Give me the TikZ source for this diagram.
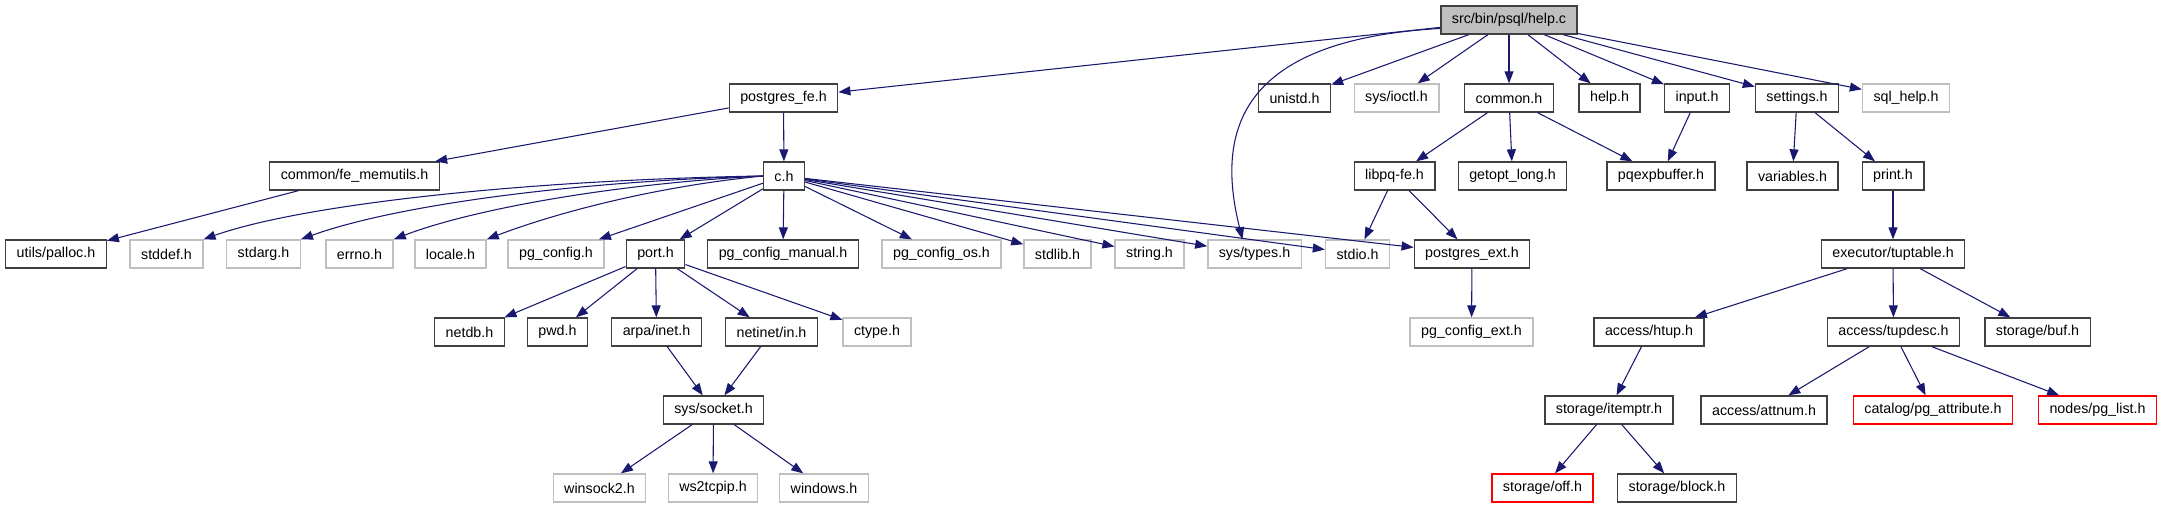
\documentclass[tikz,border=0pt]{standalone}
\usepackage{fontspec}
\setmainfont{Liberation Sans}
\usetikzlibrary{arrows.meta}
\definecolor{edgeblue}{HTML}{191970}
\definecolor{extgray}{HTML}{BFBFBF}
\definecolor{boxline}{HTML}{404040}

\begin{document}
\begin{tikzpicture}[x=0.75pt, y=-0.75pt, font=\fontsize{10.7}{12}\selectfont,
            file/.style={draw=boxline, line width=1pt, fill=white, inner xsep=8.25pt, inner ysep=0pt, minimum height=21pt},
            ext/.style={file, draw=extgray},
            trunc/.style={file, draw=red},
            root/.style={file, fill=extgray},
            inc/.style={draw=edgeblue, line width=0.8pt, -{Triangle[length=9pt,width=6.75pt]}}]
            \useasboundingbox (0,0) rectangle (2161,504);

            \node[root] (helpc) at (1509,20) {src/bin/psql/help.c};

            \node[file] (pgfe) at (783.5,98) {postgres\_fe.h};
            \node[file] (unistd) at (1294.5,98) {unistd.h};
            \node[ext] (ioctl) at (1396.5,98) {sys/ioctl.h};
            \node[file] (common) at (1509,98) {common.h};
            \node[file] (helph) at (1609.5,98) {help.h};
            \node[file] (input) at (1697,98) {input.h};
            \node[file] (settings) at (1797,98) {settings.h};
            \node[ext] (sqlhelp) at (1906,98) {sql\_help.h};

            \node[file] (memutils) at (354.5,176) {common/fe\_memutils.h};
            \node[file] (ch) at (784,176) {c.h};
            \node[file] (libpq) at (1394.5,176) {libpq-fe.h};
            \node[file] (getopt) at (1512.5,176) {getopt\_long.h};
            \node[file] (pqexp) at (1661,176) {pqexpbuffer.h};
            \node[file] (variables) at (1792.5,176) {variables.h};
            \node[file] (print) at (1893,176) {print.h};

            \node[file] (palloc) at (56,254) {utils/palloc.h};
            \node[ext] (stddef) at (166.5,254) {stddef.h};
            \node[ext] (stdarg) at (263.5,254) {stdarg.h};
            \node[ext] (errno) at (359.5,254) {errno.h};
            \node[ext] (locale) at (450.5,254) {locale.h};
            \node[ext] (pgconfig) at (556,254) {pg\_config.h};
            \node[file] (port) at (655.5,254) {port.h};
            \node[file] (pgmanual) at (783,254) {pg\_config\_manual.h};
            \node[ext] (pgos) at (941.5,254) {pg\_config\_os.h};
            \node[ext] (stdlib) at (1057.5,254) {stdlib.h};
            \node[ext] (string) at (1149.5,254) {string.h};
            \node[ext] (systypes) at (1254.5,254) {sys/types.h};
            \node[ext] (stdio) at (1357.5,254) {stdio.h};
            \node[file] (pgext) at (1472,254) {postgres\_ext.h};
            \node[file] (tuptable) at (1893,254) {executor/tuptable.h};

            \node[file] (netdb) at (469.5,332) {netdb.h};
            \node[file] (pwd) at (557.5,332) {pwd.h};
            \node[file] (arpainet) at (656.5,332) {arpa/inet.h};
            \node[file] (netinet) at (771.5,332) {netinet/in.h};
            \node[ext] (ctype) at (877,332) {ctype.h};
            \node[ext] (pgconfigext) at (1471.5,332) {pg\_config\_ext.h};
            \node[file] (htup) at (1649,332) {access/htup.h};
            \node[file] (tupdesc) at (1893.5,332) {access/tupdesc.h};
            \node[file] (buf) at (2037.5,332) {storage/buf.h};

            \node[file] (socket) at (713.5,410) {sys/socket.h};
            \node[file] (itemptr) at (1609,410) {storage/itemptr.h};
            \node[file] (attnum) at (1764,410) {access/attnum.h};
            \node[trunc] (pgattr) at (1933,410) {catalog/pg\_attribute.h};
            \node[trunc] (pglist) at (2097.5,410) {nodes/pg\_list.h};

            \node[ext] (winsock) at (599.5,488) {winsock2.h};
            \node[ext] (ws2tcpip) at (713,488) {ws2tcpip.h};
            \node[ext] (windows) at (824,488) {windows.h};
            \node[trunc] (off) at (1542.5,488) {storage/off.h};
            \node[file] (block) at (1677,488) {storage/block.h};

            \draw[inc] (helpc) -- (pgfe);
            \draw[inc] (helpc.187) .. controls (1240,40) and (1215,130) .. ([xshift=-9pt]systypes.north);
            \draw[inc] (helpc) -- (unistd);
            \draw[inc] (helpc) -- (ioctl);
            \draw[inc] (helpc) -- (common);
            \draw[inc] (helpc) -- (helph);
            \draw[inc] (helpc) -- (input);
            \draw[inc] (helpc) -- (settings);
            \draw[inc] (helpc) -- (sqlhelp);

            \draw[inc] (pgfe) -- (memutils);
            \draw[inc] (pgfe) -- (ch);
            \draw[inc] (memutils) -- (palloc);

            \draw[inc] (ch.west) .. controls (520,180) and (300,205) .. (stddef.north east);
            \draw[inc] (ch.west) .. controls (560,182) and (390,207) .. (stdarg.north east);
            \draw[inc] (ch.west) .. controls (610,184) and (470,210) .. (errno.north east);
            \draw[inc] (ch.west) .. controls (650,187) and (550,215) .. (locale.north east);
            \draw[inc] (ch) -- (pgconfig);
            \draw[inc] (ch) -- (port);
            \draw[inc] (ch) -- (pgmanual);
            \draw[inc] (ch) -- (pgos);
            \draw[inc] (ch) -- (stdlib);
            \draw[inc] (ch) -- (string);
            \draw[inc] (ch) -- (systypes);
            \draw[inc] (ch) -- (stdio);
            \draw[inc] (ch) -- (pgext);

            \draw[inc] (common) -- (libpq);
            \draw[inc] (common) -- (getopt);
            \draw[inc] (common) -- (pqexp);
            \draw[inc] (input) -- (pqexp);
            \draw[inc] (settings) -- (variables);
            \draw[inc] (settings) -- (print);
            \draw[inc] (libpq) -- (stdio);
            \draw[inc] (libpq) -- (pgext);
            \draw[inc] (print) -- (tuptable);

            \draw[inc] (port) -- (netdb);
            \draw[inc] (port) -- (pwd);
            \draw[inc] (port) -- (arpainet);
            \draw[inc] (port) -- (netinet);
            \draw[inc] (port) -- (ctype);
            \draw[inc] (arpainet) -- (socket);
            \draw[inc] (netinet) -- (socket);
            \draw[inc] (socket) -- (winsock);
            \draw[inc] (socket) -- (ws2tcpip);
            \draw[inc] (socket) -- (windows);

            \draw[inc] (pgext) -- (pgconfigext);
            \draw[inc] (tuptable) -- (htup);
            \draw[inc] (tuptable) -- (tupdesc);
            \draw[inc] (tuptable) -- (buf);
            \draw[inc] (htup) -- (itemptr);
            \draw[inc] (tupdesc) -- (attnum);
            \draw[inc] (tupdesc) -- (pgattr);
            \draw[inc] (tupdesc) -- (pglist);
            \draw[inc] (itemptr) -- (off);
            \draw[inc] (itemptr) -- (block);
        \end{tikzpicture}
\end{document}
